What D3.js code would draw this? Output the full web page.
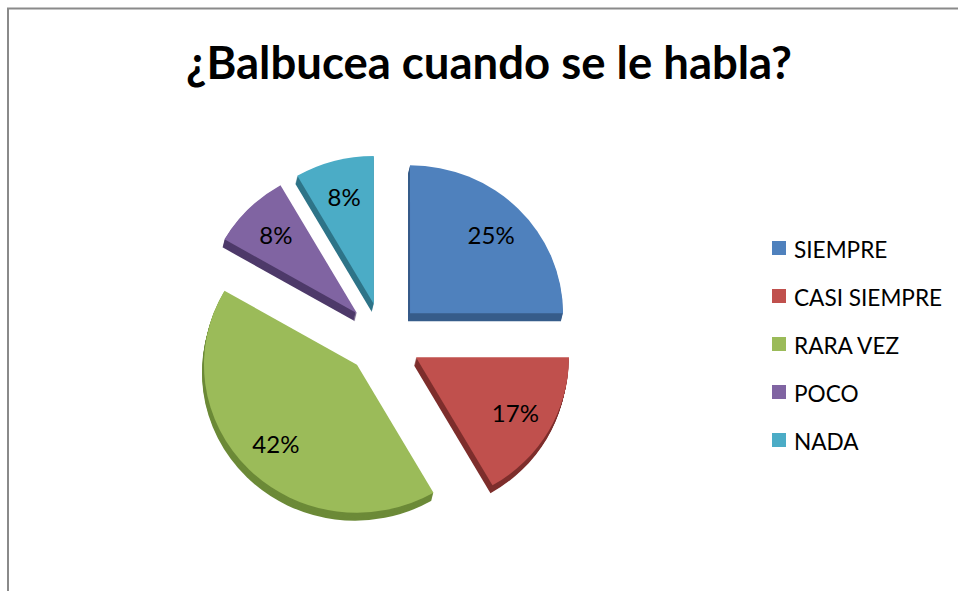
<!DOCTYPE html>
<html>
<head>
<meta charset="utf-8">
<script src="https://cdn.jsdelivr.net/npm/d3@7"></script>
<style>
  html, body { margin: 0; padding: 0; background: #fff; }
  svg { display: block; }
  text { font-family: Lato, "Open Sans", sans-serif; fill: #000; }
</style>
</head>
<body>
<div id="chart"></div>
<script>
// Chart data: answer counts out of 12 children
const categories = ["SIEMPRE", "CASI SIEMPRE", "RARA VEZ", "POCO", "NADA"];
const counts = [3, 2, 5, 1, 1];
const topColors = ["#4F81BD", "#C0504D", "#9BBB59", "#8064A2", "#4BACC6"];
const sideColors = ["#375C8A", "#7E2F2D", "#6C8A38", "#4E3A6A", "#2E7488"];
const title = "¿Balbucea cuando se le habla?";

const width = 958;
const height = 591;

const svg = d3.select("#chart")
    .append("svg")
    .attr("width", width)
    .attr("height", height);

// Chart area frame (only the top and left show in the crop)
svg.append("rect")
    .attr("x", 8)
    .attr("y", 8.5)
    .attr("width", width + 20)
    .attr("height", height + 20)
    .attr("fill", "none")
    .attr("stroke", "#8a8a8a")
    .attr("stroke-width", 2);

// Title, scaled to fill the same width as the original
const titleText = svg.append("text")
    .attr("x", 489)
    .attr("y", 79)
    .attr("text-anchor", "middle")
    .style("font-weight", "bold")
    .style("font-size", "44px")
    .text(title);
const tw = titleText.node().getComputedTextLength();
titleText.style("font-size", (44 * 606 / tw).toFixed(1) + "px");

// Pie geometry: slightly squashed ellipse, exploded slices
const cx = 383.5, cy = 339;
const rx = 153, ry = 148;
const explode = 37.5;
const depth = 8, depthDx = -2;

const total = d3.sum(counts);
const pie = d3.pie().sort(null).value(d => d)(counts);
const arc = d3.arc().innerRadius(0).outerRadius(rx);
const labelArc = d3.arc().innerRadius(rx * 0.75).outerRadius(rx * 0.75);

const slices = svg.append("g").attr("class", "slices");

pie.forEach((d, i) => {
    const mid = (d.startAngle + d.endAngle) / 2;
    const ox = cx + explode * Math.sin(mid);
    const oy = cy - explode * (ry / rx) * Math.cos(mid);
    const g = slices.append("g")
        .attr("transform", `translate(${ox},${oy})`);

    // side of the slice: stacked copies shifted down
    for (let s = depth; s >= 1; s--) {
        g.append("path")
            .attr("d", arc(d))
            .attr("transform", `translate(${depthDx * s / depth},${s}) scale(1,${ry / rx})`)
            .attr("fill", sideColors[i]);
    }

    g.append("path")
        .attr("d", arc(d))
        .attr("transform", `scale(1,${ry / rx})`)
        .attr("fill", topColors[i]);

    const [lx, ly] = labelArc.centroid(d);
    g.append("text")
        .attr("class", "pct")
        .attr("x", lx)
        .attr("y", ly * ry / rx)
        .attr("text-anchor", "middle")
        .attr("dominant-baseline", "central")
        .style("font-size", "24px")
        .text(d3.format(".0%")(d.value / total));
});

// Legend
const legend = svg.append("g").attr("class", "legend");
const rowY = d3.scalePoint().domain(categories).range([248, 440]);

categories.forEach((c, i) => {
    const y = rowY(c);
    legend.append("rect")
        .attr("x", 772)
        .attr("y", y - 7)
        .attr("width", 14)
        .attr("height", 14)
        .attr("fill", topColors[i]);
    legend.append("text")
        .attr("x", 794)
        .attr("y", y + 1)
        .attr("dominant-baseline", "central")
        .style("font-size", "22px")
        .text(c);
});

// match legend text width to the original ("CASI SIEMPRE" ~148px)
const legendTexts = legend.selectAll("text");
const lw = legendTexts.nodes()[1].getComputedTextLength();
legendTexts.style("font-size", (22 * 148 / lw).toFixed(1) + "px");
</script>
</body>
</html>
